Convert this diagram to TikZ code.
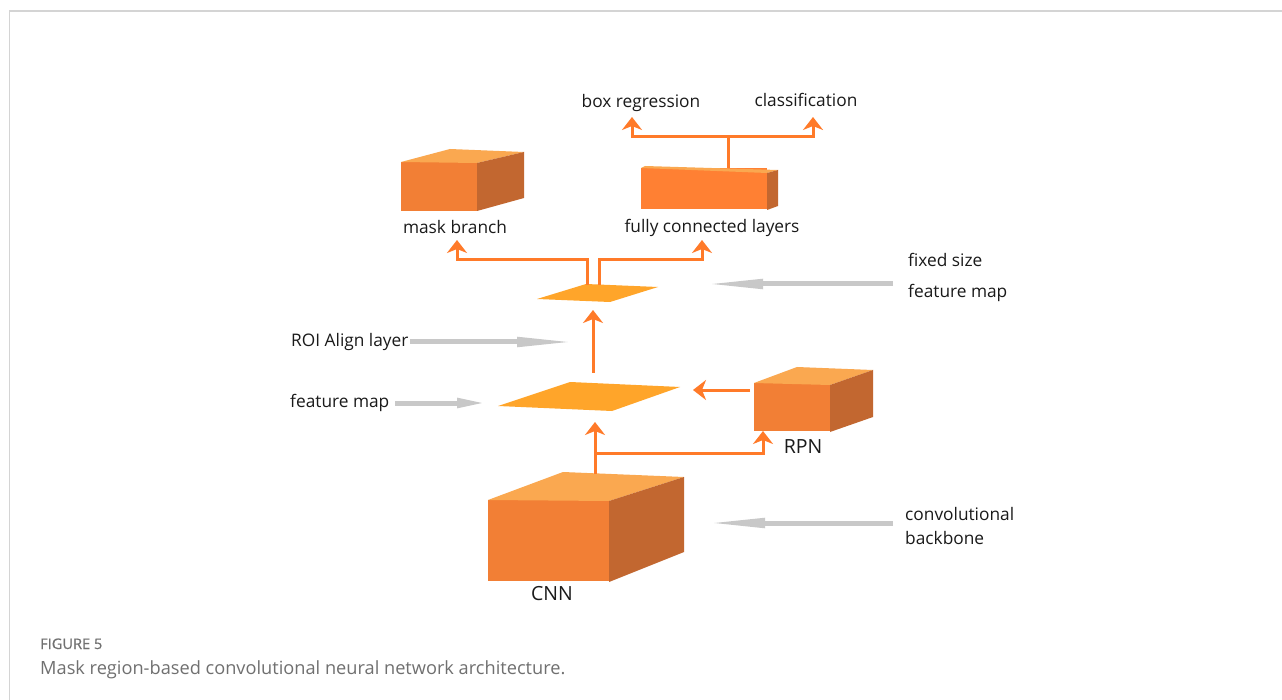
\documentclass[tikz,border=0pt]{standalone}
\usepackage{fontspec}
\setmainfont{Open Sans}
\usetikzlibrary{arrows.meta}
\definecolor{boxfront}{HTML}{F27F35}
\definecolor{boxtop}{HTML}{FAA850}
\definecolor{boxside}{HTML}{C26730}
\definecolor{fcfront}{HTML}{FF8033}
\definecolor{plate}{HTML}{FFA52A}
\definecolor{flow}{HTML}{FF7A29}
\definecolor{pointer}{HTML}{C8C8C8}
\definecolor{framegrey}{HTML}{D4D4D4}
\definecolor{captxt}{HTML}{707070}
\definecolor{lbltxt}{HTML}{1A1A1A}
\tikzset{
  flowline/.style={draw=flow, line width=3pt, line join=miter},
  flowarrow/.style={flowline, -{Stealth[length=13pt,width=20pt,inset=4pt]}},
  pointerarrow/.style={draw=pointer, line width=5pt, -{Triangle[length=60pt,width=9pt]}},
  lbl/.style={font=\fontsize{17.3}{20}\selectfont, text=lbltxt, inner sep=0pt},
  biglbl/.style={lbl, font=\fontsize{19.5}{22}\selectfont},
  frontface/.style={fill=boxfront},
  topface/.style={fill=boxtop},
  sideface/.style={fill=boxside},
  platefill/.style={fill=plate},
}
\begin{document}
\begin{tikzpicture}[x=1pt,y=-1pt]
\path[use as bounding box, fill=white] (0,0) rectangle (1282,700);
% frame
\draw[framegrey, line width=1.5pt] (9.5,700) -- (9.5,11) -- (1282,11);

% ---- mask branch box
\fill[frontface] (401,162) rectangle (477,211);
\fill[topface] (401,162) -- (450,149) -- (524,152) -- (477,163) -- cycle;
\fill[sideface] (477,163) -- (524,152) -- (524,198) -- (477,211) -- cycle;
% ---- fully connected box
\fill[fill=fcfront] (641,168) rectangle (767,209);
\fill[topface] (641,168) -- (645,166) -- (778,170) -- (767,173) -- cycle;
\fill[sideface] (767,173) -- (778,170) -- (778,206) -- (767,210) -- cycle;
% ---- RPN box
\fill[frontface] (754,383) rectangle (830,431);
\fill[topface] (754,383) -- (797,367) -- (873,370) -- (830,385) -- cycle;
\fill[sideface] (830,385) -- (873,370) -- (873,417) -- (830,432) -- cycle;
% ---- CNN box
\fill[frontface] (488,500) rectangle (609,581);
\fill[topface] (488,500) -- (563,472) -- (684,477) -- (609,501) -- cycle;
\fill[sideface] (609,501) -- (684,477) -- (684,552) -- (609,582) -- cycle;
% ---- feature map plates
\fill[platefill] (498,406) -- (570,382) -- (680,387) -- (612,411) -- cycle;
\fill[platefill] (537,299) -- (586,284) -- (658,287) -- (610,302) -- cycle;

% ---- labels
\node[lbl, anchor=base] (boxreg) at (641,108) {box regression};
\node[lbl, anchor=base] (cls) at (806,107) {classification};
\node[lbl, anchor=base] (mask) at (455,234) {mask branch};
\node[lbl, anchor=base] (fc) at (712,233) {fully connected layers};
\node[lbl, anchor=base west] (roi) at (291,347) {ROI Align layer};
\node[lbl, anchor=base west] (fmapL) at (290,407) {feature map};
\node[biglbl, anchor=base] (rpn) at (803,453) {RPN};
\node[biglbl, anchor=base] (cnn) at (552,600) {CNN};
\node[lbl, anchor=base west] (fixed) at (908,267) {fixed size};
\node[lbl, anchor=base west] (fmapR) at (908,298) {feature map};
\node[lbl, anchor=base west] (conv) at (905,520) {convolutional};
\node[lbl, anchor=base west] (backbone) at (905,544) {backbone};

% ---- connection points
\coordinate (cnnTop) at (595,474);
\coordinate (cnnFork) at (595,453);
\coordinate (bigIn) at (595,422);
\coordinate (rpnIn) at (763,431);
\coordinate (rpnOut) at (750,390);
\coordinate (bigSide) at (693,390);
\coordinate (bigOut) at (593,373);
\coordinate (smallIn) at (593,310);
\coordinate (smallOutL) at (587,285);
\coordinate (smallOutR) at (599,285);
\coordinate (maskIn) at (457,240);
\coordinate (fcIn) at (702,240);
\coordinate (fcTop) at (728,168);
\coordinate (fcFork) at (728,137);
\coordinate (boxIn) at (632,117);
\coordinate (clsIn) at (813,117);

% ---- orange flow
\draw[flowarrow] (cnnTop) -- (bigIn);
\draw[flowarrow] (cnnFork) -| (rpnIn);
\draw[flowarrow] (rpnOut) -- (bigSide);
\draw[flowarrow] (bigOut) -- (smallIn);
\draw[flowarrow] (smallOutL) |- ([yshift=-20pt]maskIn) -- (maskIn);
\draw[flowarrow] (smallOutR) |- ([yshift=-20pt]fcIn) -- (fcIn);
\draw[flowline] (fcTop) -- (fcFork);
\draw[flowarrow] (fcFork) -| (boxIn);
\draw[flowarrow] (fcFork) -| (clsIn);

% ---- grey pointers
\coordinate (roiS) at (410,342);   \coordinate (roiT) at (577,342);
\coordinate (fmLS) at (395,403);   \coordinate (fmLT) at (487,403);
\coordinate (fmRS) at (893,284);   \coordinate (fmRT) at (703,284);
\coordinate (convS) at (893,523);  \coordinate (convT) at (705,523);
\draw[pointerarrow] (roiS) -- (roiT);
\draw[pointerarrow, -{Triangle[length=30pt,width=9pt]}] (fmLS) -- (fmLT);
\draw[pointerarrow] (fmRS) -- (fmRT);
\draw[pointerarrow] (convS) -- (convT);

% ---- caption
\node[anchor=base west, inner sep=0pt, text=captxt, font=\fontsize{14.6}{17}\selectfont\addfontfeature{FakeBold=0.6}] (figno) at (40,649) {FIGURE 5};
\node[anchor=base west, inner sep=0pt, text=captxt, font=\fontsize{18.2}{21}\selectfont] (caption) at (40,674) {Mask region-based convolutional neural network architecture.};
\end{tikzpicture}
\end{document}
